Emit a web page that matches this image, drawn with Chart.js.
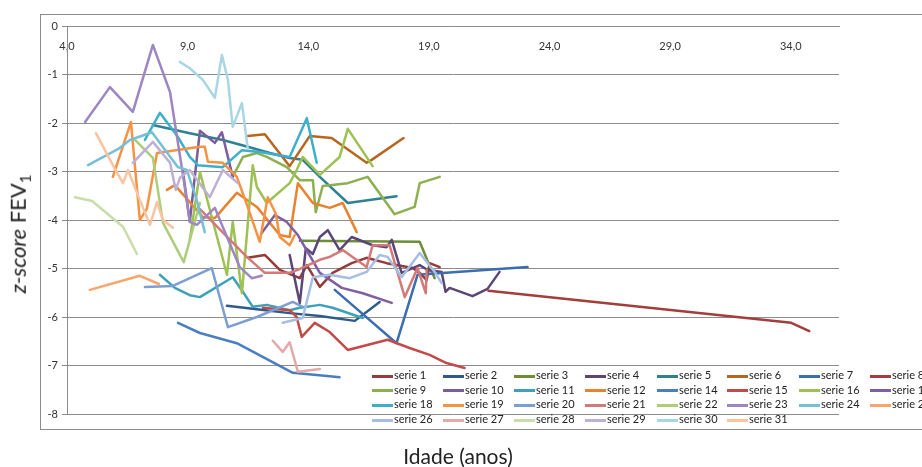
<!DOCTYPE html>
<html>
<head>
<meta charset="utf-8">
<script src="https://cdn.jsdelivr.net/npm/chart.js@4.4.1/dist/chart.umd.min.js"></script>
<style>
  html, body { margin: 0; padding: 0; background: #fff; }
  #wrap { position: relative; width: 922px; height: 467px; overflow: hidden; font-family: Lato, "Open Sans", sans-serif; }
  #frame { position: absolute; left: 40px; top: 14px; width: 900px; height: 416px; border: 1px solid #8c8c8c; box-sizing: border-box; }
  #chart { position: absolute; left: 0; top: 0; }
  #ytitle { position: absolute; left: 19px; top: 234px; transform: translate(-50%, -50%) rotate(-90deg); white-space: nowrap; font-size: 22px; color: #222; }
  #ytitle sub { font-size: 15px; }
  #xtitle { position: absolute; left: 458px; top: 455px; transform: translate(-50%, -50%); white-space: nowrap; font-size: 21px; color: #222; }
  .lg { position: absolute; height: 14px; line-height: 14px; font-size: 11px; color: #222; white-space: nowrap; }
  .lg span.sw { display: inline-block; width: 21px; height: 3px; vertical-align: middle; margin-right: 1px; }
</style>
</head>
<body>
<div id="wrap">
  <div id="frame"></div>
  <canvas id="chart" width="922" height="467"></canvas>
  <div id="ytitle"><i>z-score</i> FEV<sub>1</sub></div>
  <div id="xtitle">Idade (anos)</div>
  <div id="legend"></div>
</div>
<script>
// Age (years) and FEV1 z-score pairs for each patient series
const serie1  = [[11.49,-4.78],[12.20,-4.72],[12.82,-5.03],[13.65,-5.20],[13.94,-4.93],[14.48,-5.38],[15.01,-5.09],[15.80,-4.89],[16.42,-4.78],[17.25,-4.89],[18.33,-4.99],[18.62,-5.09],[18.91,-5.24],[19.03,-4.89],[19.45,-4.97]];
const serie2  = [[10.63,-5.77],[11.87,-5.84],[13.23,-5.92],[14.48,-5.98],[15.93,-6.08],[16.96,-5.69]];
const serie3  = [[13.65,-4.43],[18.62,-4.45],[19.24,-5.20]];
const serie4  = [[13.23,-4.72],[13.65,-5.71],[13.90,-4.58],[14.19,-4.70],[14.48,-4.35],[14.81,-4.21],[15.30,-4.62],[15.80,-4.35],[16.67,-4.52],[17.25,-4.56],[17.46,-4.41],[17.87,-5.09],[18.62,-4.93],[18.95,-5.03],[19.53,-5.07],[19.69,-5.48],[19.86,-5.40],[20.81,-5.57],[21.43,-5.42],[21.93,-5.07]];
const serie5  = [[7.56,-2.04],[9.09,-2.21],[10.46,-2.35],[11.49,-2.49],[12.41,-2.62],[13.23,-2.72],[13.77,-2.76],[14.48,-3.11],[15.64,-3.65],[17.66,-3.51]];
const serie6  = [[11.49,-2.27],[12.20,-2.23],[13.23,-2.89],[14.06,-2.27],[14.97,-2.31],[16.42,-2.82],[16.63,-2.76],[17.95,-2.31]];
const serie7  = [[15.10,-5.44],[17.66,-6.54],[18.53,-5.13],[23.09,-4.97]];
const serie8  = [[21.47,-5.46],[34.02,-6.12],[34.77,-6.29]];
const serie9  = [[10.87,-3.11],[11.29,-2.70],[11.87,-2.62],[12.28,-2.70],[13.11,-2.91],[13.65,-3.18],[14.19,-3.18],[14.31,-3.84],[14.60,-3.30],[15.64,-3.24],[16.46,-3.11],[17.58,-3.88],[18.41,-3.73],[18.62,-3.24],[19.45,-3.11]];
const serie10 = [[8.80,-2.97],[9.09,-4.04],[9.51,-2.16],[10.13,-2.41],[10.42,-2.19],[10.87,-3.11]];
const serie11 = [[7.85,-5.13],[8.47,-5.40],[9.09,-5.55],[9.51,-5.59],[10.87,-5.18],[11.29,-5.48],[11.70,-5.79],[12.28,-5.75],[13.23,-5.86],[13.65,-5.81],[14.48,-5.75],[15.01,-5.81],[16.26,-6.02]];
const serie12 = [[8.14,-3.38],[8.47,-3.28],[9.09,-3.63],[9.63,-3.94],[10.13,-3.96],[11.04,-3.44],[11.87,-3.73],[12.82,-4.31],[13.23,-4.35],[13.57,-3.24],[14.19,-3.65],[14.89,-3.75],[15.43,-3.65],[16.01,-4.25]];
const serie14 = [[8.60,-6.12],[9.51,-6.33],[11.04,-6.54],[13.36,-7.15],[14.89,-7.22],[15.30,-7.24]];
const serie15 = [[12.12,-5.81],[13.23,-5.86],[13.52,-6.00],[13.73,-6.41],[14.27,-6.12],[14.89,-6.31],[15.64,-6.68],[17.29,-6.47],[18.20,-6.64],[19.03,-6.78],[19.73,-6.95],[20.48,-7.05]];
const serie16 = [[9.09,-4.41],[9.51,-3.01],[10.63,-5.13],[10.87,-4.04],[11.25,-5.51],[11.70,-2.87],[11.87,-3.32],[12.28,-3.65],[13.23,-3.24],[13.52,-2.97],[13.77,-2.70],[14.48,-3.07],[15.30,-2.70],[15.64,-2.12],[16.67,-2.89]];
const serie17 = [[12.07,-4.27],[12.61,-3.90],[13.11,-4.04],[13.57,-4.31],[14.48,-5.09],[15.39,-5.40],[16.26,-5.51],[17.46,-5.71]];
const serie18 = [[7.23,-2.35],[7.85,-1.79],[8.60,-2.29],[9.09,-2.70],[9.42,-2.87],[10.46,-2.91],[11.25,-2.56],[11.99,-2.60],[13.23,-2.70],[13.94,-1.90],[14.35,-2.82]];
const serie19 = [[5.90,-3.11],[6.65,-1.98],[7.02,-4.00],[7.31,-3.77],[7.73,-2.62],[9.51,-2.49],[9.71,-2.49],[9.84,-2.80],[10.46,-2.82],[11.04,-3.11],[11.49,-3.73],[11.99,-4.45],[12.32,-3.53],[12.65,-3.86],[12.82,-4.35],[13.23,-4.52],[13.44,-4.31]];
const serie20 = [[7.23,-5.38],[8.39,-5.36],[10.00,-4.99],[10.67,-6.21],[11.87,-6.00],[13.36,-5.69],[13.77,-5.79]];
const serie21 = [[9.42,-3.73],[11.45,-4.76],[12.20,-5.09],[13.23,-5.09],[13.65,-5.01],[14.48,-4.82],[14.89,-4.76],[15.43,-4.62],[16.42,-4.97],[16.67,-4.52],[17.37,-4.52],[18.00,-5.59],[18.53,-4.99],[18.87,-5.51],[18.91,-5.03]];
const serie22 = [[6.82,-2.35],[7.56,-2.72],[7.98,-4.06],[8.84,-4.87],[9.51,-3.65]];
const serie23 = [[4.75,-1.98],[5.78,-1.26],[6.73,-1.77],[7.56,-0.39],[8.27,-1.36],[8.84,-3.18],[9.09,-4.04],[9.38,-4.10],[10.13,-3.75],[10.63,-4.35],[11.16,-4.97],[11.66,-5.20],[12.07,-5.15]];
const serie24 = [[4.87,-2.87],[6.11,-2.54],[6.61,-2.35],[7.52,-2.19],[8.60,-2.91],[8.97,-2.97],[9.38,-3.59],[9.71,-4.25]];
const serie25 = [[4.95,-5.44],[7.02,-5.15],[7.81,-5.32]];
const serie26 = [[12.94,-6.12],[13.77,-6.02],[14.19,-5.18],[14.89,-5.13],[15.72,-5.20],[16.42,-5.07],[16.96,-4.72],[17.29,-4.76],[17.87,-5.18],[18.62,-4.68],[19.24,-5.07],[19.53,-5.30]];
const serie27 = [[12.53,-6.49],[12.94,-6.72],[13.23,-6.52],[13.57,-7.13],[14.48,-7.07]];
const serie28 = [[4.33,-3.53],[5.04,-3.61],[6.32,-4.14],[6.90,-4.70]];
const serie29 = [[6.73,-2.82],[7.56,-2.39],[8.27,-2.82],[8.51,-3.38],[8.68,-3.13],[9.09,-2.97],[9.92,-3.53],[10.46,-2.97],[11.08,-3.24]];
const serie30 = [[8.68,-0.74],[9.09,-0.87],[9.63,-1.11],[10.13,-1.48],[10.42,-0.60],[10.67,-1.11],[10.87,-2.08],[11.25,-1.59],[11.49,-2.52]];
const serie31 = [[5.20,-2.21],[5.90,-2.87],[6.32,-3.24],[6.53,-2.97],[7.02,-3.59],[7.44,-4.10],[7.73,-3.63],[7.98,-4.00],[8.39,-4.16]];

// Axis tick values
const xTicks = [4, 9, 14, 19, 24, 29, 34];
const yTicks = [0, -1, -2, -3, -4, -5, -6, -7, -8];

// Series list: label, values, line colour
const seriesList = [
  ['serie 1',  serie1,  '#943c3a'], ['serie 2',  serie2,  '#2f5a8c'], ['serie 3',  serie3,  '#6e8d37'],
  ['serie 4',  serie4,  '#5b4676'], ['serie 5',  serie5,  '#2e8094'], ['serie 6',  serie6,  '#b7651f'],
  ['serie 7',  serie7,  '#3c6db0'], ['serie 8',  serie8,  '#a23e3b'], ['serie 9',  serie9,  '#8db04f'],
  ['serie 10', serie10, '#7a5e9c'], ['serie 11', serie11, '#3fa1b9'], ['serie 12', serie12, '#e8822e'],
  ['serie 14', serie14, '#4a7ec0'], ['serie 15', serie15, '#c24a47'], ['serie 16', serie16, '#9dc152'],
  ['serie 17', serie17, '#7e5fa3'], ['serie 18', serie18, '#3cb0cb'], ['serie 19', serie19, '#f59244'],
  ['serie 20', serie20, '#7c9ed3'], ['serie 21', serie21, '#d37a78'], ['serie 22', serie22, '#adcd78'],
  ['serie 23', serie23, '#9d86c2'], ['serie 24', serie24, '#74c0d6'], ['serie 25', serie25, '#f8a56b'],
  ['serie 26', serie26, '#a6bee3'], ['serie 27', serie27, '#e3a9a8'], ['serie 28', serie28, '#c8dda9'],
  ['serie 29', serie29, '#bdb0d4'], ['serie 30', serie30, '#a8d6e4'], ['serie 31', serie31, '#fbc3a0']
];

const datasets = seriesList.map(([label, pts, color], i) => ({
  label,
  data: pts.map(([x, y]) => ({ x, y })),
  borderColor: color,
  backgroundColor: color,
  borderWidth: 2.5,
  borderJoinStyle: 'round',
  borderCapStyle: 'round',
  pointRadius: 0,
  pointHoverRadius: 0,
  showLine: true,
  fill: false,
  tension: 0,
  order: seriesList.length - i
}));

const tickFont = { family: 'Lato, "Open Sans", sans-serif', size: 11 };

const chart = new Chart(document.getElementById('chart'), {
  type: 'scatter',
  data: { datasets },
  options: {
    responsive: false,
    animation: false,
    devicePixelRatio: 1,
    layout: { padding: { left: 20, top: 0, right: 83, bottom: 53 } },
    plugins: { legend: { display: false }, tooltip: { enabled: false } },
    scales: {
      x: {
        type: 'linear',
        position: 'top',
        min: 4,
        max: 36,
        afterBuildTicks: s => { s.ticks = xTicks.map(v => ({ value: v })); },
        afterFit: s => { s.height = 26; },
        ticks: {
          // labels sit just under the top axis line, inside the plot
          mirror: true,
          padding: 14,
          autoSkip: false,
          maxRotation: 0,
          color: '#333',
          font: tickFont,
          callback: v => Number(v).toFixed(1).replace('.', ',')
        },
        grid: { display: false, drawTicks: false },
        border: { display: true, color: '#8c8c8c', width: 1 }
      },
      y: {
        type: 'linear',
        min: -8,
        max: 0,
        afterBuildTicks: s => { s.ticks = yTicks.map(v => ({ value: v })); },
        afterFit: s => { s.width = 47; },
        ticks: {
          padding: 4,
          color: '#333',
          font: tickFont,
          callback: v => String(v)
        },
        grid: { color: '#8c8c8c', lineWidth: 1, tickLength: 5, drawTicks: true },
        border: { display: true, color: '#8c8c8c', width: 1 }
      }
    }
  }
});

// Legend drawn as HTML text over the lower right of the plot
const legendCols = [372, 443, 514, 585, 657, 727, 799, 870];
const legendRows = [375, 389.5, 404, 419];
const legendBox = document.getElementById('legend');
chart.data.datasets.forEach((ds, i) => {
  const item = document.createElement('div');
  item.className = 'lg';
  item.style.left = legendCols[i % 8] + 'px';
  item.style.top = (legendRows[Math.floor(i / 8)] - 7) + 'px';
  const sw = document.createElement('span');
  sw.className = 'sw';
  sw.style.background = ds.borderColor;
  item.appendChild(sw);
  item.appendChild(document.createTextNode(ds.label));
  legendBox.appendChild(item);
});
</script>
</body>
</html>
